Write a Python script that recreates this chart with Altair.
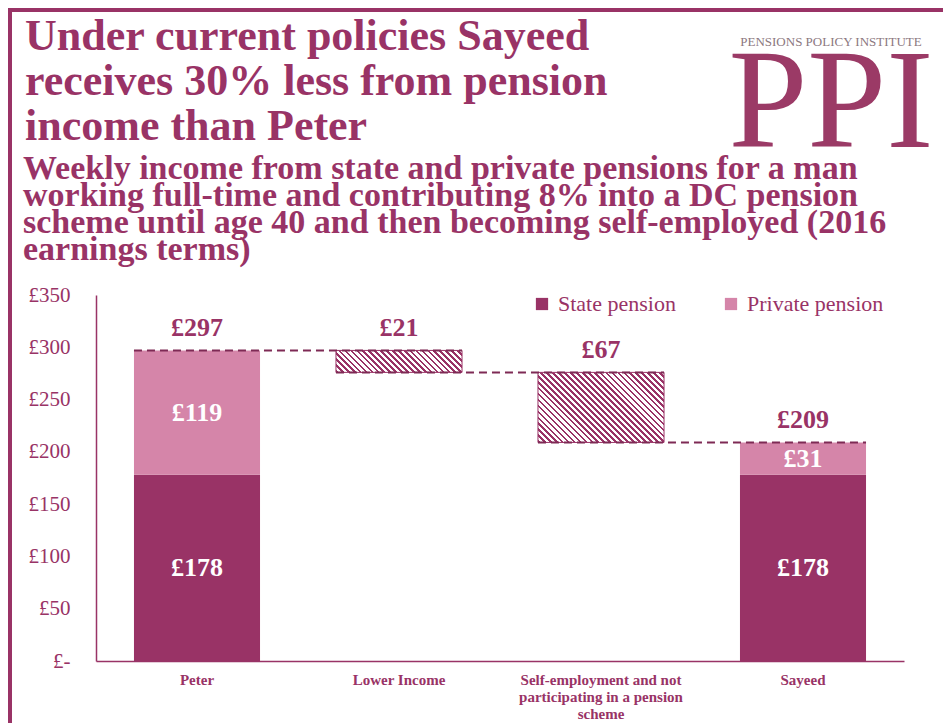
import altair as alt
import pandas as pd

# ---------------- data ----------------
categories = ["Peter", "Lower Income",
              "Self-employment and not participating in a pension scheme", "Sayeed"]
people = ["Peter", "Sayeed"]
state_pension = [178, 178]
private_pension = [119, 31]
step_names = ["Lower Income",
              "Self-employment and not participating in a pension scheme"]
step_drops = [21, 67]
series = ["State pension", "Private pension"]
y_ticks = [0, 50, 100, 150, 200, 250, 300, 350]

title_lines = ["Under current policies Sayeed",
               "receives 30% less from pension",
               "income than Peter"]
subtitle_lines = ["Weekly income from state and private pensions for a man",
                  "working full-time and contributing 8% into a DC pension",
                  "scheme until age 40 and then becoming self-employed  (2016",
                  "earnings terms)"]

# ---------------- styles ----------------
PURPLE = "#993366"
PINK = "#D585A9"
SERIF = "Liberation Serif"
W, H = 808, 366
PAD_IN = 0.376
STEP = W / len(categories)
BAND = STEP * (1 - PAD_IN)
HALF_BAND = BAND / 2
PX_PER_UNIT = H / 350

# ---------------- tables ----------------
stack_rows = []
for p, s, pr in zip(people, state_pension, private_pension):
    stack_rows.append({"category": p, "series": series[0], "lo": 0, "hi": s,
                       "label": f"£{s}"})
    stack_rows.append({"category": p, "series": series[1], "lo": s, "hi": s + pr,
                       "label": f"£{pr}"})
stack_df = pd.DataFrame(stack_rows)
stack_df["mid"] = (stack_df["lo"] + stack_df["hi"]) / 2

level = state_pension[0] + private_pension[0]
top_rows = [{"category": people[0], "y": level, "label": f"£{level}"}]
step_rows = []
conn_rows = []
prev = people[0]
for name, d in zip(step_names, step_drops):
    step_rows.append({"category": name, "lo": level - d, "hi": level})
    top_rows.append({"category": name, "y": level, "label": f"£{d}"})
    conn_rows.append({"from": prev, "to": name, "level": level})
    level -= d
    prev = name
conn_rows.append({"from": prev, "to": people[1], "level": level})
final_total = state_pension[1] + private_pension[1]
top_rows.append({"category": people[1], "y": final_total, "label": f"£{final_total}"})
step_df = pd.DataFrame(step_rows)
top_df = pd.DataFrame(top_rows)
conn_df = pd.DataFrame(conn_rows)

xscale = alt.Scale(domain=categories, paddingInner=PAD_IN, paddingOuter=PAD_IN / 2)
yscale = alt.Scale(domain=[0, 350], nice=False)

label_expr = ("datum.value == '" + categories[2] + "' ? "
              "['Self-employment and not', 'participating in a pension', 'scheme'] : datum.value")

x_axis = alt.Axis(labelExpr=label_expr, labelFont=SERIF, labelFontSize=15,
                  labelFontWeight="bold", labelColor=PURPLE, labelLineHeight=17,
                  labelPadding=11, labelLimit=400, labelAngle=0, ticks=False,
                  domainColor=PURPLE, domainWidth=1.5, title=None)
y_axis = alt.Axis(values=y_ticks,
                  labelExpr="datum.value == 0 ? '£-' : '£' + datum.value",
                  labelFont=SERIF, labelFontSize=21, labelColor=PURPLE,
                  labelPadding=26, ticks=False, grid=False,
                  domainColor=PURPLE, domainWidth=1.5, title=None)

# ---------------- stacked bars ----------------
bars = alt.Chart(stack_df).mark_bar().encode(
    x=alt.X("category:N", scale=xscale, axis=x_axis, sort=categories),
    y=alt.Y("lo:Q", scale=yscale, axis=y_axis),
    y2="hi:Q",
    color=alt.Color("series:N",
                    scale=alt.Scale(domain=series, range=[PURPLE, PINK]),
                    legend=alt.Legend(orient="none", legendX=435, legendY=-2,
                                      direction="horizontal", title=None,
                                      symbolType="square", symbolSize=150,
                                      symbolStrokeWidth=0, labelFont=SERIF,
                                      labelFontSize=22, labelColor=PURPLE,
                                      labelOffset=5, columnPadding=44, padding=0)),
)

inner_labels = alt.Chart(stack_df).mark_text(
    font=SERIF, fontSize=26, fontWeight="bold", color="white", baseline="middle"
).encode(
    x=alt.X("category:N", scale=xscale, sort=categories),
    y=alt.Y("mid:Q", scale=yscale),
    text="label:N",
)

# ---------------- hatched waterfall steps ----------------
def hatch(w, h, period=6.0, duty=0.45, dark=PURPLE, light="white"):
    c = (w + h) / (w * w + h * h)
    n = max(1, round((w + h) / period))
    stops = []
    for i in range(n):
        a, b, e = i / n, (i + duty) / n, (i + 1) / n
        stops += [alt.GradientStop(color=dark, offset=a),
                  alt.GradientStop(color=dark, offset=b),
                  alt.GradientStop(color=light, offset=b),
                  alt.GradientStop(color=light, offset=e)]
    return alt.LinearGradient(gradient="linear", stops=stops,
                              x1=0, y1=1, x2=c * w, y2=1 - c * h)

step_layers = []
for name, d in zip(step_names, step_drops):
    step_layers.append(
        alt.Chart(step_df).transform_filter(alt.datum.category == name).mark_bar(
            fill=hatch(BAND, d * PX_PER_UNIT), stroke=PURPLE, strokeWidth=1
        ).encode(
            x=alt.X("category:N", scale=xscale, sort=categories),
            y=alt.Y("lo:Q", scale=yscale),
            y2="hi:Q",
        )
    )

# ---------------- connectors ----------------
connectors = alt.Chart(conn_df).mark_rule(
    color="#7E2A55", strokeWidth=2, strokeDash=[8, 5],
    xOffset=-HALF_BAND, x2Offset=HALF_BAND
).encode(
    x=alt.X("from:N", scale=xscale, sort=categories),
    x2="to:N",
    y=alt.Y("level:Q", scale=yscale),
)

top_labels = alt.Chart(top_df).mark_text(
    font=SERIF, fontSize=26, fontWeight="bold", color=PURPLE,
    baseline="alphabetic", dy=-14
).encode(
    x=alt.X("category:N", scale=xscale, sort=categories),
    y=alt.Y("y:Q", scale=yscale),
    text="label:N",
)

# ---------------- titles, logo, frame ----------------
one = pd.DataFrame({"k": [0]})
title_mark = alt.Chart(one).mark_text(
    text=title_lines, font=SERIF, fontSize=44, fontWeight="bold", color=PURPLE,
    align="left", baseline="alphabetic", lineHeight=45
).encode(x=alt.value(-71), y=alt.value(-245))

subtitle_mark = alt.Chart(one).mark_text(
    text=subtitle_lines, font=SERIF, fontSize=34, fontWeight="bold", color=PURPLE,
    align="left", baseline="alphabetic", lineHeight=27
).encode(x=alt.value(-73), y=alt.value(-116))

logo_small = alt.Chart(one).mark_text(
    text="PENSIONS POLICY INSTITUTE", font=SERIF, fontSize=13, color="#8C7880",
    align="center", baseline="alphabetic"
).encode(x=alt.value(735), y=alt.value(-249))

logo_big = alt.Chart(one).mark_text(
    text="PPI", font=SERIF, fontSize=142, color="#9B3A66",
    align="center", baseline="alphabetic"
).encode(x=alt.value(735), y=alt.value(-148))

frame_top = alt.Chart(one).mark_rule(color=PURPLE, strokeWidth=4).encode(
    x=alt.value(-88), x2=alt.value(951 - 96), y=alt.value(-285))
frame_left = alt.Chart(one).mark_rule(color=PURPLE, strokeWidth=4).encode(
    x=alt.value(-86), y=alt.value(-287), y2=alt.value(440))

chart = alt.layer(
    bars, *step_layers, connectors, inner_labels, top_labels,
    title_mark, subtitle_mark, logo_small, logo_big, frame_top, frame_left
).properties(
    width=W, height=H,
    autosize=alt.AutoSizeParams(type="none"),
    padding={"left": 88, "top": 287, "right": 39, "bottom": 62},
).configure_view(stroke=None)

chart.save("out.html", embed_options={"renderer": "svg", "actions": False})
